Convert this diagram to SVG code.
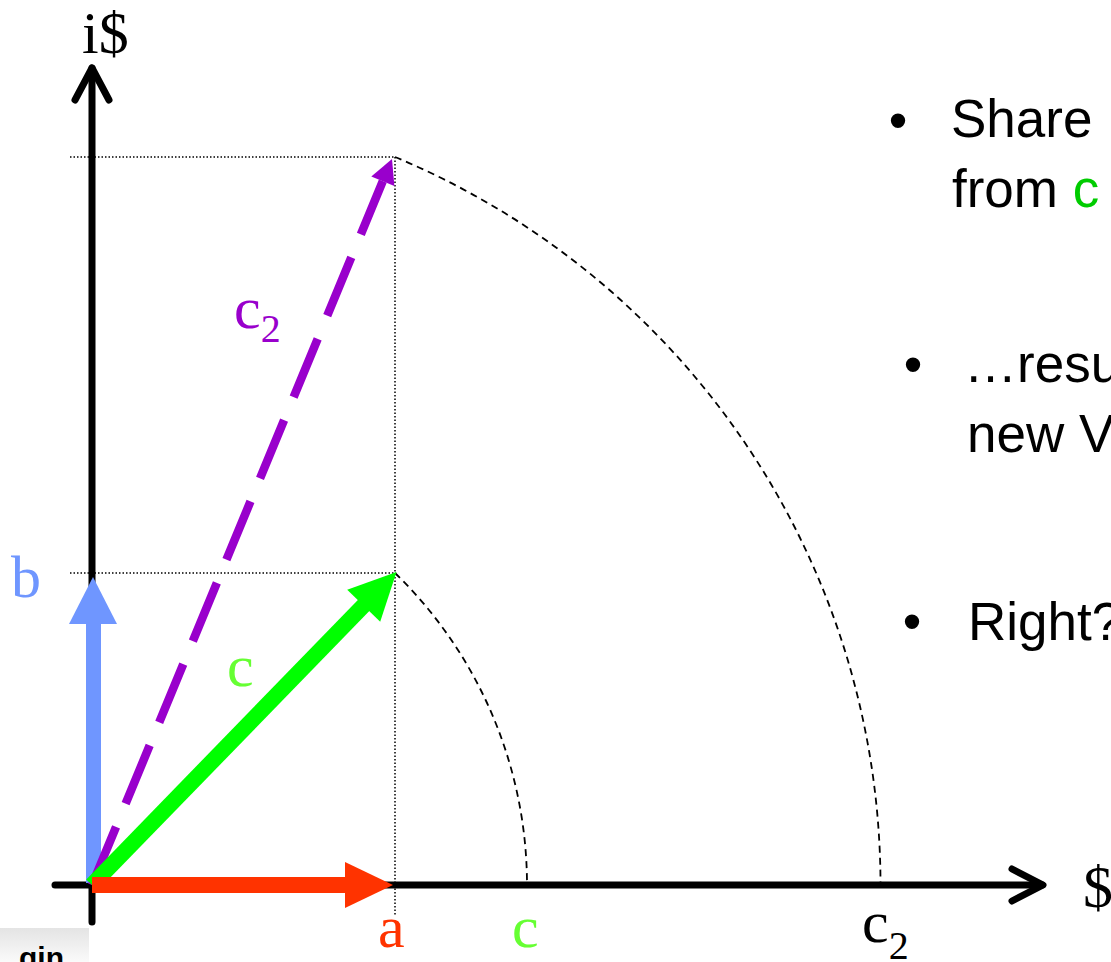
<svg xmlns="http://www.w3.org/2000/svg" width="1111" height="962" viewBox="0 0 1111 962">
<style>
.lbl{font-family:"Liberation Serif","Times New Roman",serif;font-size:60px}
.txt{font-family:"Liberation Sans",Arial,sans-serif;font-size:53px;fill:#000}
.axis{stroke:#000;stroke-width:7;fill:none;stroke-linecap:round;stroke-linejoin:round}
.dot{stroke:#000;stroke-width:1.5;stroke-dasharray:1.5 2;fill:none}
.arc{stroke:#000;stroke-width:1.8;stroke-dasharray:7 5;fill:none}
</style>
<defs>
<linearGradient id="gbox" x1="0" y1="0" x2="0" y2="1">
<stop offset="0" stop-color="#e4e4e4"/>
<stop offset="1" stop-color="#fafafa"/>
</linearGradient>
</defs>
<rect width="1111" height="962" fill="#fff"/>
<g id="connectors">
<g id="axes">
<line class="axis" x1="92" y1="922" x2="92" y2="68" stroke-linecap="butt"/>
<polyline class="axis" points="75,100 92,68 109,100"/>
<line class="axis" x1="55" y1="885" x2="1042" y2="885" stroke-linecap="butt"/>
<polyline class="axis" points="1012,869 1043,885 1012,901"/>
</g>
<g id="guides">
<line class="dot" x1="70" y1="157" x2="395" y2="157"/>
<line class="dot" x1="70" y1="573" x2="395" y2="573"/>
<line class="dot" x1="395" y1="157" x2="395" y2="915"/>
<path class="arc" d="M395 573 A435 435 0 0 1 527 885"/>
<path class="arc" d="M395 157 A788.5 788.5 0 0 1 880.5 885"/>
</g>
<g id="vec-b">
<rect x="86" y="622" width="15" height="261" fill="#6F96FF"/>
<polygon points="69,624 117,624 93,577" fill="#6F96FF"/>
</g>
<g id="vec-c2">
<line x1="92" y1="885" x2="382.8" y2="181.2" stroke="#9900CC" stroke-width="8.5" stroke-dasharray="63 25"/>
<polygon points="392,159 371.3,176.4 394.4,186" fill="#9900CC"/>
</g>
<g id="vec-c">
<line x1="92" y1="885" x2="367" y2="602" stroke="#00FF00" stroke-width="16"/>
<polygon points="396.5,572 347.2,589.7 380.2,621.7" fill="#00FF00"/>
</g>
<g id="vec-a">
<rect x="92" y="877" width="255" height="16" fill="#FF3300"/>
<polygon points="345,862 393,885 345,908" fill="#FF3300"/>
</g>
</g>
<g id="labels">
<text class="lbl" x="82" y="53" fill="#000">i$</text>
<text class="lbl" x="1083" y="907" fill="#000">$</text>
<text class="lbl" x="11" y="597" fill="#6F96FF">b</text>
<text class="lbl" x="378" y="947" fill="#FF3300">a</text>
<text class="lbl" x="512" y="947" fill="#66FF33">c</text>
<text class="lbl" x="862" y="942" fill="#000">c<tspan font-size="40" dy="17">2</tspan></text>
<text class="lbl" x="234" y="328" fill="#9900CC">c<tspan font-size="40" dy="14">2</tspan></text>
<text class="lbl" x="227" y="686" fill="#66FF33">c</text>
</g>
<g id="bullets">
<text class="txt" x="898" y="139" text-anchor="middle">•</text>
<text class="txt" x="951" y="137">Share</text>
<text class="txt" x="952" y="207">from <tspan fill="#00CC00">c</tspan></text>
<text class="txt" x="913" y="383" text-anchor="middle">•</text>
<text class="txt" x="964" y="382">…resu</text>
<text class="txt" x="967" y="452">new V</text>
<text class="txt" x="912" y="640" text-anchor="middle">•</text>
<text class="txt" x="968" y="640">Right?</text>
</g>
<g id="login">
<rect x="0" y="928" width="89" height="34" fill="url(#gbox)"/>
<text x="19" y="968" font-family="Liberation Sans,Arial,sans-serif" font-weight="bold" font-size="30" fill="#000">gin</text>
</g>
</svg>
